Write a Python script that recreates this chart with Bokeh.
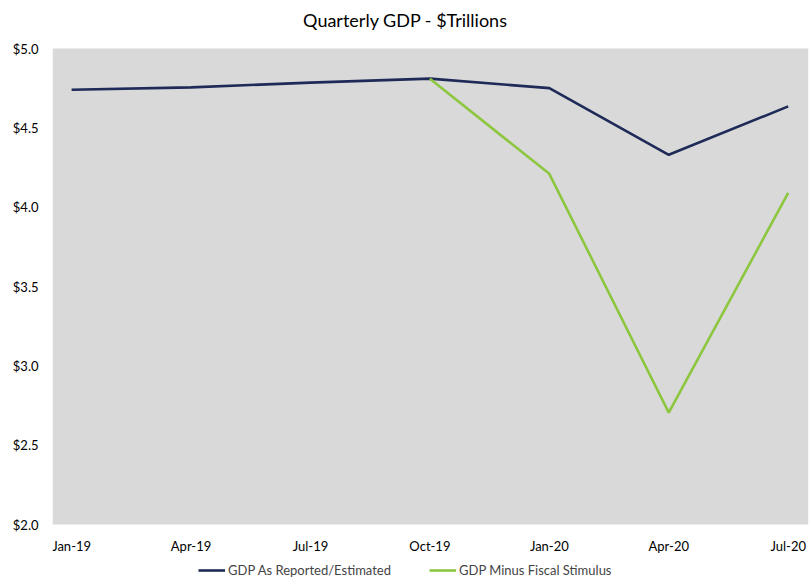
from bokeh.plotting import figure
from bokeh.models import (ColumnDataSource, FixedTicker, NumeralTickFormatter,
                          Legend, LegendItem, Range1d, BoxAnnotation, Label)
from bokeh.core.properties import value
from bokeh.embed import file_html
from bokeh.resources import INLINE

quarters = ["Jan-19", "Apr-19", "Jul-19", "Oct-19", "Jan-20", "Apr-20", "Jul-20"]
gdp_reported = [4.74, 4.755, 4.785, 4.81, 4.75, 4.33, 4.635]
stim_quarters = ["Oct-19", "Jan-20", "Apr-20", "Jul-20"]
gdp_minus_stimulus = [4.81, 4.21, 2.705, 4.09]
y_ticks = [2.0, 2.5, 3.0, 3.5, 4.0, 4.5, 5.0]

FONT = "Lato"
Y_MIN, Y_MAX = 2.0, 5.0
PX_PER_UNIT = 476 / (Y_MAX - Y_MIN)

idx = {q: i for i, q in enumerate(quarters)}
src1 = ColumnDataSource(dict(x=[idx[q] for q in quarters], y=gdp_reported))
src2 = ColumnDataSource(dict(x=[idx[q] for q in stim_quarters], y=gdp_minus_stimulus))
src_lab = ColumnDataSource(dict(x=[idx[q] for q in quarters], y=[Y_MIN] * len(quarters),
                                t=quarters))

p = figure(width=810, height=579, output_backend="svg", toolbar_location=None,
           title=None,
           x_range=Range1d(-0.16, 6.17),
           y_range=Range1d(Y_MIN - 55 / PX_PER_UNIT, Y_MAX + 48 / PX_PER_UNIT),
           min_border_left=52, min_border_right=2, min_border_top=0,
           min_border_bottom=0)

p.background_fill_color = "white"
p.border_fill_color = "white"
p.outline_line_color = None
p.grid.visible = False

# grey plot area between $2.0 and $5.0
p.add_layout(BoxAnnotation(bottom=Y_MIN, top=Y_MAX, fill_color="#D9D9D9",
                           fill_alpha=1.0, line_color=None, level="underlay"))

r1 = p.line("x", "y", source=src1, line_color="#1E2A57", line_width=2.6)
r2 = p.line("x", "y", source=src2, line_color="#8DC63F", line_width=2.6)

# category labels under the grey area
p.text("x", "y", text="t", source=src_lab, y_offset=21, text_align="center",
       text_baseline="middle", text_font=value(FONT), text_font_size="13px",
       text_color="#000000")

p.xaxis.visible = False
p.yaxis.ticker = FixedTicker(ticks=y_ticks)
p.yaxis.formatter = NumeralTickFormatter(format="$0.0")
ax = p.yaxis[0]
ax.axis_line_color = None
ax.major_tick_line_color = None
ax.minor_tick_line_color = None
ax.major_tick_out = 0
ax.major_tick_in = 0
ax.minor_tick_out = 0
ax.minor_tick_in = 0
ax.major_label_standoff = 14
ax.major_label_text_font = FONT
ax.major_label_text_font_size = "13px"
ax.major_label_text_color = "#000000"

title = Label(x=-0.16 + (405 - 52) / (756 / 6.33), y=Y_MAX + 29 / PX_PER_UNIT,
              text="Quarterly GDP - $Trillions", text_align="center",
              text_baseline="middle", text_font=FONT, text_font_size="18px",
              text_color="#000000")
p.add_layout(title)

legend = Legend(items=[LegendItem(label="GDP As Reported/Estimated", renderers=[r1]),
                       LegendItem(label="GDP Minus Fiscal Stimulus", renderers=[r2])],
                orientation="horizontal", location=(146, 1),
                border_line_color=None, background_fill_alpha=0,
                label_text_font=FONT, label_text_font_size="13px",
                glyph_width=27, glyph_height=14, label_height=14,
                spacing=38, padding=0, margin=0,
                label_standoff=3)
p.add_layout(legend, "center")

open("out.html", "w").write(file_html(p, INLINE))
